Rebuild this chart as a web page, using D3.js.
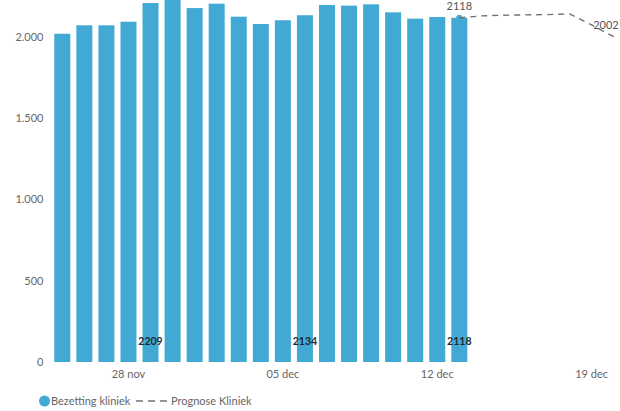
<!DOCTYPE html>
<html><head><meta charset="utf-8">
<script src="https://cdn.jsdelivr.net/npm/d3@7"></script>
<style>
html,body{margin:0;padding:0;background:#fff;}
svg{display:block;font-family:Lato,"Open Sans",sans-serif;}
</style></head>
<body><svg id="c" width="620" height="411"></svg>
<script>
// ---- data ----
const barDates = ["2020-11-25","2020-11-26","2020-11-27","2020-11-28","2020-11-29","2020-11-30","2020-12-01","2020-12-02","2020-12-03","2020-12-04","2020-12-05","2020-12-06","2020-12-07","2020-12-08","2020-12-09","2020-12-10","2020-12-11","2020-12-12","2020-12-13"];
const bezetting = [2020, 2072, 2072, 2094, 2209, 2245, 2178, 2205, 2125, 2080, 2103, 2134, 2197, 2193, 2201, 2152, 2113, 2123, 2118];
const progDates = ["2020-12-13","2020-12-14","2020-12-15","2020-12-16","2020-12-17","2020-12-18","2020-12-19","2020-12-20"];
const prognose = [2118, 2130, 2134, 2136, 2138, 2142, 2074, 2002];
const weekLabelDates = ["2020-11-29","2020-12-06","2020-12-13"];
const xTickDates = ["2020-11-28","2020-12-05","2020-12-12","2020-12-19"];
const yTicks = [0, 500, 1000, 1500, 2000];
const legendLabels = ["Bezetting kliniek", "Prognose Kliniek"];

// ---- setup ----
const parse = d3.utcParse("%Y-%m-%d");
const months = ["jan","feb","mrt","apr","mei","jun","jul","aug","sep","okt","nov","dec"];
const fmtDate = d => d3.utcFormat("%d")(d) + " " + months[d.getUTCMonth()];
const nl = d3.formatLocale({decimal:",", thousands:".", grouping:[3], currency:["€",""]});
const fmtY = nl.format(",d");

const svg = d3.select("#c");
const barColor = "#42a9d4";
const x = d3.scaleUtc().domain([parse("2020-11-25"), parse("2020-12-20")]).range([62.3, 613.7]);
const y = d3.scaleLinear().domain([0, 2000]).range([362, 37]);
const barW = 16;

const bars = barDates.map((d,i) => ({date: parse(d), v: bezetting[i]}));
const prog = progDates.map((d,i) => ({date: parse(d), v: prognose[i]}));

// y axis labels
svg.append("g").selectAll("text").data(yTicks).join("text")
  .attr("x", 43.5).attr("y", d => y(d)).attr("dy", "0.35em")
  .attr("text-anchor", "end").attr("font-size", 11).attr("fill", "#666")
  .text(d => fmtY(d));

// bars
svg.append("g").selectAll("rect").data(bars).join("rect")
  .attr("x", d => x(d.date) - barW/2).attr("width", barW)
  .attr("y", d => y(d.v)).attr("height", d => y(0) - y(d.v))
  .attr("fill", barColor);

// marker at last bar
const last = bars[bars.length-1];
svg.append("circle").attr("cx", x(last.date)).attr("cy", y(last.v)).attr("r", 3).attr("fill", barColor);

// prognose line
svg.append("path").datum(prog)
  .attr("d", d3.line().x(d => x(d.date)).y(d => y(d.v)))
  .attr("fill", "none").attr("stroke", "#707070").attr("stroke-width", 1.4)
  .attr("stroke-dasharray", "6,5");

// top labels
svg.append("text").attr("x", x(last.date)).attr("y", y(last.v) - 8)
  .attr("text-anchor", "middle").attr("font-size", 11).attr("fill", "#555").text(last.v);
const pe = prog[prog.length-1];
svg.append("text").attr("x", x(pe.date) + 5).attr("y", y(pe.v) - 8)
  .attr("text-anchor", "end").attr("font-size", 11).attr("fill", "#555").text(pe.v);

// inner weekly labels
const weekly = weekLabelDates.map(d => bars.find(b => +b.date === +parse(d)));
svg.append("g").selectAll("text").data(weekly).join("text")
  .attr("x", d => x(d.date)).attr("y", y(0) - 17)
  .attr("text-anchor", "middle").attr("font-size", 10.5).attr("font-weight", "bold")
  .attr("fill", "#1e2a33").text(d => d.v);

// x axis labels
svg.append("g").selectAll("text").data(xTickDates.map(parse)).join("text")
  .attr("x", d => x(d)).attr("y", 374).attr("dy", "0.35em")
  .attr("text-anchor", "middle").attr("font-size", 11).attr("fill", "#666")
  .text(d => fmtDate(d));

// legend
const lg = svg.append("g");
lg.append("circle").attr("cx", 44.5).attr("cy", 401).attr("r", 5.5).attr("fill", barColor);
lg.append("text").attr("x", 51).attr("y", 401).attr("dy", "0.35em").attr("font-size", 11).attr("fill", "#666").text(legendLabels[0]);
lg.append("line").attr("x1", 136).attr("x2", 170).attr("y1", 401).attr("y2", 401)
  .attr("stroke", "#707070").attr("stroke-width", 1.4).attr("stroke-dasharray", "7,5");
lg.append("text").attr("x", 171).attr("y", 401).attr("dy", "0.35em").attr("font-size", 11).attr("fill", "#666").text(legendLabels[1]);
</script>
</body></html>
